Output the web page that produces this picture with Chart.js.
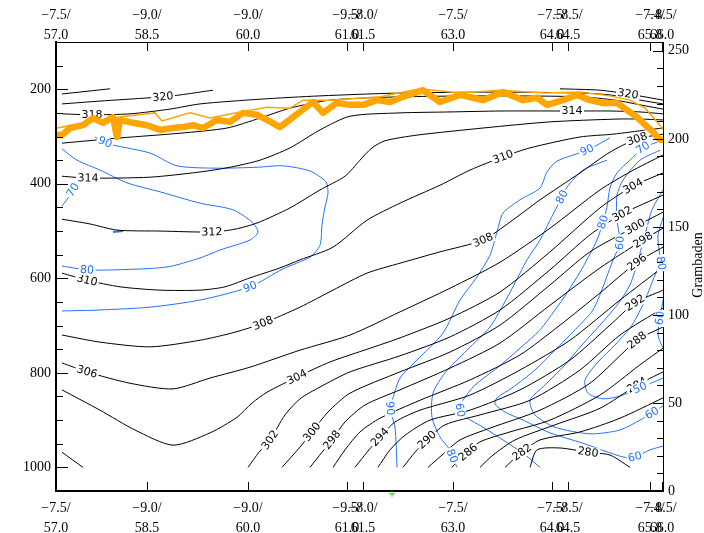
<!DOCTYPE html>
<html>
<head>
<meta charset="utf-8">
<script src="https://cdn.jsdelivr.net/npm/chart.js@4.4.1/dist/chart.umd.min.js"></script>
<style>
  html, body { margin: 0; padding: 0; background: #fff; }
  #wrap { width: 704px; height: 533px; }
</style>
</head>
<body>
<div id="wrap"><canvas id="section" width="704" height="533"></canvas></div>
<script>
// x = distance along the section (km), y = pressure (hPa)
const xTickKm  = [0, 182, 384, 582, 614, 794, 992, 1024, 1188, 1212];
const xTickLon = ['\u22127.5/', '\u22129.0/', '\u22129.0/', '\u22129.5/', '\u22128.0/', '\u22127.5/', '\u22127.5/', '\u22128.5/', '\u22127.4/', '\u22128.5/'];
const xTickLat = ['57.0', '58.5', '60.0', '61.0', '61.5', '63.0', '64.0', '64.5', '65.8', '66.0'];
const pTicks = [100, 150, 200, 250, 300, 350, 400, 450, 500, 550, 600, 650, 700, 750, 800, 850, 900, 950, 1000, 1050];
const hTicks = [0, 10, 20, 30, 40, 50, 60, 70, 80, 90, 100, 110, 120, 130, 140, 150, 160, 170, 180, 190, 200, 210, 220, 230, 240, 250];

// potential temperature (K), [km, hPa]
const th322a = [[12,210],[108,199]];
const th320  = [[12,231],[88,225],[188,218],[214,216],[248,212],[314,202]];
const th320b = [[1008,199],[1088,202],[1144,210],[1188,218],[1214,223]];
const th318  = [[12,252],[72,254],[148,252],[228,242],[288,231],[408,221],[528,214],[688,208],[888,206],[1048,208],[1108,212],[1168,223],[1214,231]];
const th316  = [[12,314],[128,303],[248,293],[342,282],[408,261],[468,240],[548,223],[688,216],[888,214],[1048,216],[1118,223],[1178,235],[1214,242]];
const th314  = [[12,384],[64,388],[188,386],[288,375],[348,365],[408,350],[468,324],[528,286],[588,257],[688,250],[788,248],[888,246],[1032,246],[1108,246],[1168,248],[1214,252]];
const th312  = [[12,475],[68,485],[122,498],[208,500],[312,502],[358,496],[402,483],[468,451],[528,413],[578,384],[608,350],[632,324],[658,309],[722,297],[854,282],[988,269],[1122,263],[1168,263],[1214,265]];
const th310  = [[12,589],[62,604],[128,618],[208,625],[288,625],[338,618],[388,599],[448,578],[488,561],[554,534],[622,477],[688,441],[768,403],[828,371],[894,343],[948,324],[1048,301],[1114,295],[1182,286],[1214,282]];
const th308  = [[12,720],[88,735],[188,745],[288,731],[358,714],[414,695],[488,661],[554,625],[622,589],[688,568],[768,544],[854,519],[908,481],[968,434],[1048,377],[1108,333],[1162,305],[1214,295]];
const th306  = [[12,779],[62,798],[148,822],[234,834],[308,811],[388,788],[488,752],[588,720],[688,671],[788,621],[888,566],[988,494],[1088,413],[1148,375],[1214,339]];
const th304  = [[12,836],[88,879],[158,921],[234,953],[308,927],[362,894],[392,864],[422,841],[482,809],[548,777],[628,748],[688,726],[788,684],[888,629],[988,544],[1088,451],[1154,405],[1214,377]];
const th302a = [[12,968],[54,1000]];
const th302  = [[384,1000],[406,968],[428,942],[458,889],[488,855],[528,830],[588,798],[688,764],[788,724],[888,667],[988,582],[1068,508],[1132,464],[1214,424]];
const th300  = [[452,1000],[488,957],[512,925],[544,883],[588,843],[688,798],[788,756],[888,699],[988,614],[1068,544],[1158,491],[1214,460]];
const th298  = [[508,1000],[532,968],[552,942],[578,904],[618,868],[688,836],[788,790],[888,737],[988,657],[1088,578],[1174,519],[1214,494]];
const th296  = [[554,1000],[578,963],[608,925],[648,896],[728,858],[828,815],[928,762],[1008,699],[1088,631],[1162,566],[1214,534]];
const th294  = [[598,1000],[622,968],[648,936],[678,904],[728,879],[828,847],[928,794],[1028,731],[1128,646],[1214,576]];
const th292  = [[644,1000],[668,963],[698,932],[748,900],[828,879],[928,836],[1028,773],[1108,699],[1158,652],[1214,625]];
const th290  = [[694,1000],[718,968],[742,942],[778,910],[848,889],[948,858],[1048,794],[1128,720],[1214,663]];
const th288  = [[744,1000],[772,974],[808,942],[868,917],[968,879],[1068,822],[1162,731],[1214,703]];
const th286  = [[792,1000],[808,980],[824,968],[848,946],[908,925],[988,900],[1088,847],[1168,783],[1214,748]];
const th284  = [[848,1000],[874,974],[918,942],[998,910],[1088,875],[1162,826],[1214,798]];
const th282  = [[898,1000],[918,980],[932,968],[968,942],[1048,925],[1128,896],[1214,853]];
const th280  = [[948,1000],[962,963],[1008,959],[1064,968],[1108,974],[1148,1000]];

// relative humidity (%), [km, hPa]
const rh90a = [[78,301],[98,312],[114,318],[188,335],[242,362],[322,367],[402,365],[454,362],[508,373],[540,396],[544,420],[538,449],[532,487],[528,530],[508,555],[454,580],[388,618],[288,646],[188,661],[88,667],[12,669]];
const rh80a = [[12,326],[42,350],[88,371],[142,398],[208,417],[288,441],[354,455],[392,481],[404,502],[388,519],[328,540],[288,557],[222,576],[122,582],[62,582],[12,574]];
const rhDot = [[114,502],[134,500]];
const rh70a = [[12,447],[24,430],[34,413],[44,394]];
const rh90b = [[1108,303],[1062,329],[1002,352],[982,375],[968,409],[928,434],[894,462],[882,502],[868,551],[842,597],[808,646],[774,716],[722,773],[688,811],[674,853],[668,875],[678,915],[682,1000]];
const rh80b = [[1102,350],[1054,371],[1022,407],[1012,428],[988,477],[968,519],[942,561],[914,618],[894,657],[868,703],[822,752],[778,800],[754,843],[752,894],[768,936],[788,963],[792,976],[802,1000]];
const rhC = [[1202,312],[1174,324],[1148,350],[1122,377],[1108,409],[1102,449],[1094,481],[1082,519],[1054,576],[1022,631],[998,667],[968,709],[928,748],[884,788],[838,826],[814,858],[808,879],[820,894],[854,915],[894,942],[934,970],[968,1000]];
const rhD = [[1208,329],[1168,350],[1134,392],[1122,424],[1122,477],[1128,525],[1114,561],[1094,618],[1074,667],[1038,709],[998,752],[958,794],[912,832],[882,853],[878,866],[898,883],[934,900],[988,927],[1054,949],[1134,978],[1158,978],[1188,963],[1214,955]];
const rhE = [[1214,413],[1192,455],[1178,508],[1164,561],[1148,614],[1122,657],[1088,699],[1052,741],[1018,783],[978,826],[948,858],[958,889],[998,915],[1068,929],[1128,921],[1168,900],[1192,885],[1214,870]];
const rhF = [[1214,557],[1198,593],[1178,646],[1152,699],[1118,741],[1084,777],[1058,815],[1064,843],[1094,855],[1128,849],[1168,832],[1214,811]];
const rhG = [[1214,472],[1204,508],[1206,540],[1210,568],[1214,587]];
const rhH = [[1214,646],[1208,684],[1204,720],[1214,748]];

// tropopause (thick) and second estimate (thin)
const tropKm = [2,12,28,54,74,94,114,122,128,154,182,208,234,254,274,294,322,348,374,402,422,448,474,514,534,562,588,614,642,668,694,734,768,808,854,894,934,962,982,1014,1042,1068,1094,1122,1142,1162,1174,1194,1208,1214];
const tropP  = [297,297,282,276,261,271,259,301,265,271,276,286,282,280,276,282,265,269,250,254,265,280,259,227,250,229,233,233,223,227,216,202,227,212,223,206,223,218,233,223,212,223,229,229,244,259,271,290,307,307];
const trop2Km = [2,88,138,198,212,268,308,368,422,468,494,548,648,728,808,888,978,1048,1108,1148,1178,1208,1214];
const trop2P  = [282,265,257,250,267,250,261,248,238,240,223,223,216,199,208,202,208,206,214,223,240,276,286];
const markKm = [672];
const markP  = [1056];

// level, points, label point indices
const thetaLines = [
  [322, th322a, []], [320, th320, [3]], [320, th320b, [2]], [318, th318, [1]], [316, th316, []],
  [314, th314, [1, 12]], [312, th312, [4]], [310, th310, [1, 14]], [308, th308, [5, 11, 16]],
  [306, th306, [1]], [304, th304, [8, 16]], [302, th302a, []], [302, th302, [2, 12]],
  [300, th300, [2, 10]], [298, th298, [2, 10]], [296, th296, [9]], [294, th294, [2]],
  [292, th292, [8]], [290, th290, [2]], [288, th288, [6]], [286, th286, [2]],
  [284, th284, [5]], [282, th282, [2]], [280, th280, [3]]
];
const rhLines = [
  [rh90a, [[1, '90'], [16, '90']]], [rh80a, [[14, '80']]], [rh70a, [[2, '70']]],
  [rh90b, [[1, '90'], [15, '90']]], [rh80b, [[3, '80'], [16, '80']]],
  [rhC, [[1, '70'], [6, '80'], [16, '60']]], [rhD, [[5, '60'], [20, '60']]],
  [rhE, [[16, '60']]], [rhF, [[10, '50']]], [rhG, [[3, '80']]], [rhH, [[1, '60']]]
];

const BLUE = '#2272ff';
const toXY = pts => pts.map(([x, y]) => ({ x, y }));
const contour = (pts, color) => ({
  data: toXY(pts), showLine: true, borderColor: color, borderWidth: 1,
  pointRadius: 0, tension: 0.25, fill: false
});

const datasets = [
  { data: tropKm.map((x, i) => ({ x, y: tropP[i] })), showLine: true, borderColor: '#ffa500',
    borderWidth: 6.5, pointRadius: 0, tension: 0, borderJoinStyle: 'round' },
  { data: trop2Km.map((x, i) => ({ x, y: trop2P[i] })), showLine: true, borderColor: '#ffa500',
    borderWidth: 1.5, pointRadius: 0, tension: 0 },
  { data: markKm.map((x, i) => ({ x, y: markP[i] })), showLine: false, pointStyle: 'cross',
    pointRadius: 3, borderColor: '#33cc33', borderWidth: 1, clip: false },
  ...thetaLines.map(l => contour(l[1], '#000')),
  ...rhLines.map(l => contour(l[0], BLUE)),
  contour(rhDot, BLUE)
];
datasets[datasets.length - 1].borderWidth = 2;
const FIRST_CONTOUR = 3;

function drawLabel(ctx, x, y, ang, text, color) {
  ctx.save();
  ctx.translate(x, y);
  ctx.rotate(ang);
  const w = ctx.measureText(text).width;
  ctx.fillStyle = '#fff';
  ctx.fillRect(-w / 2 - 1.5, -5.5, w + 3, 11);
  ctx.fillStyle = color;
  ctx.fillText(text, 0, 0.5);
  ctx.restore();
}

const contourLabels = {
  id: 'contourLabels',
  afterDatasetDraw(chart, args) {
    if (args.index !== FIRST_CONTOUR) return;
    const ctx = chart.ctx, sx = chart.scales.x, sy = chart.scales.y;
    const px = p => [sx.getPixelForValue(p[0]), sy.getPixelForValue(p[1])];
    ctx.save();
    ctx.font = '11px "DejaVu Sans"';
    ctx.textAlign = 'center';
    ctx.textBaseline = 'middle';
    const put = (pts, i, text, color) => {
      const a = px(pts[Math.max(i - 1, 0)]), b = px(pts[Math.min(i + 1, pts.length - 1)]);
      let ang = Math.atan2(b[1] - a[1], b[0] - a[0]);
      if (ang > Math.PI / 2) ang -= Math.PI;
      if (ang < -Math.PI / 2) ang += Math.PI;
      const c = px(pts[i]);
      drawLabel(ctx, c[0], c[1], ang, text, color);
    };
    thetaLines.forEach(([lev, pts, idx]) => idx.forEach(i => put(pts, i, String(lev), '#000')));
    rhLines.forEach(([pts, labs]) => labs.forEach(([i, t]) => put(pts, i, t, BLUE)));
    ctx.restore();
  }
};

const inwardTicks = {
  id: 'inwardTicks',
  afterDraw(chart) {
    const ctx = chart.ctx, a = chart.chartArea;
    ctx.save();
    ctx.strokeStyle = '#000';
    ctx.lineWidth = 1;
    ctx.beginPath();
    ['x', 'x2'].forEach(id => {
      const s = chart.scales[id];
      s.ticks.forEach(t => {
        const x = Math.round(s.getPixelForValue(t.value)) + 0.5;
        if (id === 'x') { ctx.moveTo(x, a.bottom); ctx.lineTo(x, a.bottom - 9); }
        else { ctx.moveTo(x, a.top); ctx.lineTo(x, a.top + 9); }
      });
    });
    const sy = chart.scales.y;
    sy.ticks.forEach(t => {
      const y = Math.round(sy.getPixelForValue(t.value)) + 0.5;
      ctx.moveTo(a.left, y); ctx.lineTo(a.left + (t.value % 200 === 0 ? 12 : 7), y);
    });
    const sh = chart.scales.y2;
    sh.ticks.forEach(t => {
      const y = Math.round(sh.getPixelForValue(t.value)) + 0.5;
      ctx.moveTo(a.right, y); ctx.lineTo(a.right - (t.value % 50 === 0 ? 10 : 6), y);
    });
    ctx.stroke();
    ctx.restore();
  }
};

const sideTitle = {
  id: 'sideTitle',
  afterDraw(chart) {
    const ctx = chart.ctx;
    ctx.save();
    ctx.translate(698, 265);
    ctx.rotate(-Math.PI / 2);
    ctx.font = '14px "Liberation Serif"';
    ctx.fillStyle = '#000';
    ctx.textAlign = 'center';
    ctx.textBaseline = 'middle';
    ctx.fillText('Grambaden', 0, 0);
    ctx.restore();
  }
};

const tickFont = { family: 'Liberation Serif', size: 14, lineHeight: '20px' };
const xAxis = (pos) => ({
  type: 'linear', position: pos, min: 0, max: 1214,
  afterBuildTicks: s => { s.ticks = xTickKm.map(v => ({ value: v })); },
  afterFit: s => { s.height = 42; },
  grid: { display: false, drawTicks: false },
  border: { display: true, color: '#000', width: pos === 'bottom' ? 2 : 1 },
  ticks: {
    autoSkip: false, maxRotation: 0, minRotation: 0, color: '#000', font: tickFont,
    padding: pos === 'bottom' ? 7 : -3,
    callback: (v, i) => [xTickLon[i], xTickLat[i]]
  }
});

new Chart(document.getElementById('section'), {
  type: 'scatter',
  data: { datasets },
  options: {
    responsive: false,
    animation: false,
    devicePixelRatio: 1,
    events: [],
    layout: { padding: 0 },
    plugins: { legend: { display: false }, tooltip: { enabled: false } },
    scales: {
      x: xAxis('bottom'),
      x2: xAxis('top'),
      y: {
        type: 'linear', position: 'left', reverse: true, min: 100, max: 1050,
        afterBuildTicks: s => { s.ticks = pTicks.map(v => ({ value: v })); },
        afterFit: s => { s.width = 56; },
        grid: { display: false, drawTicks: false },
        border: { display: true, color: '#000', width: 2 },
        ticks: { color: '#000', font: tickFont, padding: 5, autoSkip: false,
          callback: v => (v % 200 === 0 ? String(v) : '') }
      },
      y2: {
        type: 'linear', position: 'right', min: 0, max: 255,
        afterBuildTicks: s => { s.ticks = hTicks.map(v => ({ value: v })); },
        afterFit: s => { s.width = 41; },
        grid: { display: false, drawTicks: false },
        border: { display: true, color: '#000', width: 1 },
        ticks: { color: '#000', font: tickFont, padding: 5, autoSkip: false,
          callback: v => (v % 50 === 0 ? String(v) : '') }
      }
    }
  },
  plugins: [contourLabels, inwardTicks, sideTitle]
});
</script>
</body>
</html>
